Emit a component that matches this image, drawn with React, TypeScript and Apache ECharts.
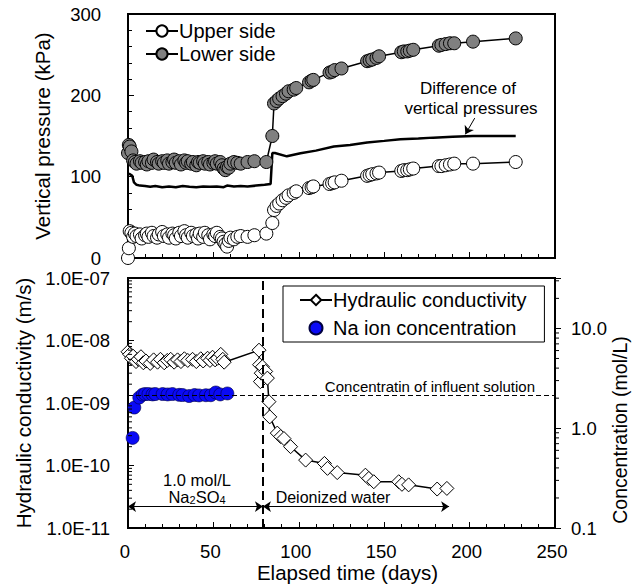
import React, { useEffect, useRef } from 'react';
import * as echarts from 'echarts';

// ---------- data ----------
const pressureDays = [0, 0.5, 1, 2, 3, 4, 5, 7, 8, 10, 11, 12, 14, 15, 17, 18, 20, 21, 23, 24, 26, 27, 28, 30, 31, 33, 34, 35, 37, 38, 40, 41, 42, 44, 45, 47, 48, 50, 51, 52, 54, 55, 56, 57, 58, 59, 60, 62, 64, 66, 70, 74, 81, 84.5, 85.5, 87, 88.5, 90.5, 92.5, 94, 97, 98.5, 106, 107.5, 108.5, 118, 119.5, 121, 125, 140, 141.5, 143, 145.5, 147, 160, 161.5, 163.5, 165, 167, 182, 183.5, 186, 188.5, 191, 202, 227];
const upperSide = [0, 12, 33, 31, 26, 30, 27, 29, 24, 28, 30, 26, 31, 27, 25, 29, 32, 27, 29, 25, 30, 28, 24, 31, 27, 33, 28, 25, 31, 27, 29, 24, 30, 26, 31, 28, 23, 29, 27, 31, 26, 24, 20, 17, 14, 21, 25, 23, 26, 27, 26, 28, 30, 43, 59, 64, 67, 71, 74, 77, 80, 82, 86, 87, 88, 91, 92, 93, 95, 101, 102, 103, 104, 105, 107, 108, 108, 109, 110, 113, 113, 114, 115, 116, 116, 118];
const lowerSide = [129, 139, 137, 131, 120, 118, 116, 119, 117, 118, 115, 119, 117, 121, 118, 116, 119, 117, 120, 116, 118, 121, 117, 119, 115, 120, 117, 119, 116, 118, 114, 118, 117, 119, 116, 118, 115, 117, 119, 116, 118, 114, 110, 108, 112, 111, 116, 118, 117, 116, 118, 119, 118, 150, 190, 193, 196, 199, 202, 205, 207, 209, 216, 218, 219, 228, 229, 231, 233, 242, 243, 244, 246, 248, 253, 254, 254, 255, 256, 261, 262, 263, 264, 264, 266, 270];

const diffDays = [0.5, 2.5, 3.5, 5, 7, 10, 13, 16, 20, 24, 28, 32, 36, 40, 44, 48, 52, 56, 58, 62, 66, 70, 75, 80, 83.5, 84.5, 86, 93, 101, 110, 120.5, 130, 140, 150, 159.5, 170, 178.7, 190, 202, 227];
const diffPressure = [104, 101, 93, 90, 89, 88.5, 87.5, 88.5, 87, 88, 87, 88.5, 87.5, 87, 88, 87.5, 88, 87, 89, 88, 88.5, 88, 89, 90, 91, 129, 129, 125, 128.7, 132, 137, 139, 142, 144, 146, 147, 148, 149, 150, 150];

const hcDays = [0, 1, 2, 3, 4.7, 6, 7.6, 9, 10.5, 13, 15, 17.3, 19, 21.2, 23, 25, 27, 29, 31, 33, 35, 37.8, 40, 42.6, 44, 46.6, 48, 49.5, 51, 52.4, 54.3, 55.5, 56.3, 76.7, 77, 77.5, 78, 78.7, 80.6, 81.6, 82.5, 83, 87.4, 89.4, 91.3, 95.2, 104, 115, 116.8, 122.5, 139, 141, 143.9, 158.5, 160.4, 164.3, 181, 186.7];
const hydraulicConductivity = [6.6e-9, 6.0e-9, 5.2e-9, 5.6e-9, 4.6e-9, 5.0e-9, 5.5e-9, 4.4e-9, 4.7e-9, 4.3e-9, 4.9e-9, 4.5e-9, 5.0e-9, 4.4e-9, 4.8e-9, 5.0e-9, 4.5e-9, 4.9e-9, 4.6e-9, 5.1e-9, 4.8e-9, 5.0e-9, 4.6e-9, 5.1e-9, 4.7e-9, 5.2e-9, 4.8e-9, 5.4e-9, 4.9e-9, 5.2e-9, 6.0e-9, 5.0e-9, 4.5e-9, 7.0e-9, 4.1e-9, 2.2e-9, 3.0e-9, 3.8e-9, 3.2e-9, 2.5e-9, 1.05e-9, 6.0e-10, 3.3e-10, 2.9e-10, 2.7e-10, 2.0e-10, 1.22e-10, 1.08e-10, 9.0e-11, 7.7e-11, 7.0e-11, 6.2e-11, 5.5e-11, 5.5e-11, 5.0e-11, 4.9e-11, 4.2e-11, 4.3e-11];

const naDays = [2.7, 3.7, 6.6, 8.6, 10, 12, 14.4, 16, 20.3, 23.2, 26, 30, 32, 35.8, 39, 41.6, 45.6, 48.5, 51.4, 54, 58.2];
const naConcentration = [0.8, 1.61, 2.03, 2.17, 2.2, 2.2, 2.18, 2.2, 2.2, 2.18, 2.2, 2.16, 2.15, 2.1, 2.15, 2.13, 2.14, 2.14, 2.28, 2.18, 2.23];

const influentConcentration = 2.15;
const solutionChangeDay = 79;
const deionizedEndDay = 188;
const arrowLevel = 2.2e-11;
const diffArrow = [[203, 172], [197.5, 152]];

const hcTickLabels = ['1.0E-11', '1.0E-10', '1.0E-09', '1.0E-08', '1.0E-07'];
const concTickLabels = ['0.1', '1.0', '10.0'];

const FONT = 'Liberation Sans, Arial, sans-serif';

const zip = (a: number[], b: number[]) => a.map((v, i) => [v, b[i]]);

const minorLog = (lo: number, hi: number, x: number) => {
  const out: number[][] = [];
  for (let e = lo; e < hi; e++) for (let m = 2; m <= 9; m++) out.push([x, m * Math.pow(10, e)]);
  return out;
};

const isDecade = (v: number) => Math.abs(Math.log10(v) - Math.round(Math.log10(v))) < 1e-6;

export default function App() {
  const ref = useRef<HTMLDivElement>(null);
  useEffect(() => {
    if (!ref.current) return;
    const chart = echarts.init(ref.current, null, { renderer: 'svg' });
    const axisLine = { show: true, lineStyle: { color: '#000', width: 2 } };
    const label = { color: '#000', fontSize: 18.5, fontFamily: FONT };
    const titleStyle = { fontSize: 20.5, color: '#000', fontFamily: FONT };
    const tickRender = (dir: number) => (params: any, api: any) => {
      const p = api.coord([api.value(0), api.value(1)]);
      return {
        type: 'line',
        shape: { x1: p[0], y1: p[1], x2: p[0] + dir * 4, y2: p[1] },
        style: { stroke: '#000', lineWidth: 1 },
      };
    };
    const option: any = {
      animation: false,
      backgroundColor: '#fff',
      textStyle: { fontFamily: FONT },
      grid: [
        { left: 128, top: 14, width: 427, height: 244, show: true, borderColor: '#000', borderWidth: 2, backgroundColor: 'transparent' },
        { left: 128, top: 278, width: 427, height: 250, show: true, borderColor: '#000', borderWidth: 2, backgroundColor: 'transparent' },
      ],
      legend: [
        {
          data: ['Upper side', 'Lower side'],
          orient: 'vertical', left: 140, top: 16, itemWidth: 32, itemHeight: 14, itemGap: 3,
          textStyle: { fontSize: 20, color: '#000', fontFamily: FONT, padding: [0, 0, 0, -4] },
        },
        {
          data: ['Hydraulic conductivity', 'Na ion concentration'],
          orient: 'vertical', left: 283, top: 286, itemWidth: 32, itemHeight: 13, itemGap: 8,
          padding: [4, 18, 4, 16], borderColor: '#000', borderWidth: 1, backgroundColor: '#fff',
          textStyle: { fontSize: 20, color: '#000', fontFamily: FONT, padding: [0, 0, 0, -4] },
        },
      ],
      xAxis: [
        {
          gridIndex: 0, type: 'value', min: 0, max: 250, interval: 50,
          axisLine, axisLabel: { show: false },
          axisTick: { show: true, inside: true, length: 6, lineStyle: { color: '#000', width: 1 } },
          minorTick: { show: true, splitNumber: 5, length: 4, lineStyle: { color: '#000', width: 1 } },
          splitLine: { show: false },
        },
        {
          gridIndex: 1, type: 'value', min: 0, max: 250, interval: 50,
          axisLine, axisLabel: { ...label, margin: 14, padding: [0, 6, 0, 0] },
          axisTick: { show: true, inside: true, length: 6, lineStyle: { color: '#000', width: 1 } },
          minorTick: { show: true, splitNumber: 5, length: 4, lineStyle: { color: '#000', width: 1 } },
          splitLine: { show: false },
          name: 'Elapsed time (days)', nameLocation: 'middle', nameGap: 33,
          nameTextStyle: { ...titleStyle, padding: [0, 0, 0, 12] },
        },
      ],
      yAxis: [
        {
          gridIndex: 0, type: 'value', min: 0, max: 300, interval: 100,
          axisLine, axisLabel: { ...label, margin: 27 },
          axisTick: { show: true, inside: true, length: 6, lineStyle: { color: '#000', width: 1 } },
          minorTick: { show: true, splitNumber: 5, length: 4, lineStyle: { color: '#000', width: 1 } },
          splitLine: { show: false },
          name: 'Vertical pressure (kPa)', nameLocation: 'middle', nameGap: 75, nameRotate: 90,
          nameTextStyle: titleStyle,
        },
        {
          gridIndex: 1, type: 'log', logBase: 10, min: 1e-11, max: 1e-7,
          axisLine,
          axisLabel: {
            ...label, margin: 18,
            formatter: (v: number) => (isDecade(v) ? hcTickLabels[Math.round(Math.log10(v)) + 11] ?? '' : ''),
          },
          axisTick: { show: true, inside: true, length: 6, lineStyle: { color: '#000', width: 1 } },
          splitLine: { show: false },
          name: 'Hydraulic conductivity (m/s)', nameLocation: 'middle', nameGap: 92, nameRotate: 90,
          nameTextStyle: titleStyle,
        },
        {
          gridIndex: 1, type: 'log', logBase: 10, min: 0.1, max: 32, position: 'right',
          axisLine,
          axisLabel: {
            ...label, margin: 16,
            formatter: (v: number) => (isDecade(v) ? concTickLabels[Math.round(Math.log10(v)) + 1] ?? '' : ''),
          },
          axisTick: { show: true, inside: false, length: 6, lineStyle: { color: '#000', width: 1 } },
          splitLine: { show: false },
        },
      ],
      graphic: [
        { type: 'text', x: 468, y: 88, style: { text: 'Difference of', font: `17px ${FONT}`, fill: '#000', textAlign: 'center', textVerticalAlign: 'middle' } },
        { type: 'text', x: 471, y: 108, style: { text: 'vertical pressures', font: `17px ${FONT}`, fill: '#000', textAlign: 'center', textVerticalAlign: 'middle' } },
        { type: 'text', x: 535, y: 386, style: { text: 'Concentratin of influent solution', font: `15px ${FONT}`, fill: '#000', textAlign: 'right', textVerticalAlign: 'middle' } },
        { type: 'text', x: 197, y: 480, style: { text: '1.0 mol/L', font: `16.5px ${FONT}`, fill: '#000', textAlign: 'center', textVerticalAlign: 'middle' } },
        {
          type: 'text', x: 197, y: 497,
          style: {
            text: 'Na{s|2}SO{s|4}', font: `16.5px ${FONT}`, fill: '#000', textAlign: 'center', textVerticalAlign: 'middle',
            rich: { s: { fontSize: 11, fontFamily: FONT, padding: [6, 0, 0, 0], fill: '#000' } },
          },
        },
        { type: 'text', x: 333, y: 497, style: { text: 'Deionized water', font: `16px ${FONT}`, fill: '#000', textAlign: 'center', textVerticalAlign: 'middle' } },
        { type: 'text', x: 620, y: 430, rotation: Math.PI / 2, style: { text: 'Concentration (mol/L)', font: `19.5px ${FONT}`, fill: '#000', textAlign: 'center', textVerticalAlign: 'middle' } },
      ],
      series: [
        {
          name: 'Difference of vertical pressures', type: 'line', xAxisIndex: 0, yAxisIndex: 0,
          data: zip(diffDays, diffPressure), showSymbol: false, symbol: 'none',
          lineStyle: { color: '#000', width: 2.5 }, z: 2,
          markLine: {
            silent: true, symbol: ['none', 'arrow'], symbolSize: 8, label: { show: false },
            lineStyle: { color: '#000', width: 1, type: 'solid' },
            data: [[{ coord: diffArrow[0] }, { coord: diffArrow[1] }]],
          },
        },
        {
          name: 'Upper side', type: 'line', xAxisIndex: 0, yAxisIndex: 0,
          data: zip(pressureDays, upperSide), symbol: 'circle', symbolSize: 13,
          itemStyle: { color: '#fff', borderColor: '#000', borderWidth: 1 },
          lineStyle: { color: '#000', width: 1.5 }, z: 3,
        },
        {
          name: 'Lower side', type: 'line', xAxisIndex: 0, yAxisIndex: 0,
          data: zip(pressureDays, lowerSide), symbol: 'circle', symbolSize: 13,
          itemStyle: { color: '#808080', borderColor: '#000', borderWidth: 1 },
          lineStyle: { color: '#000', width: 1.5 }, z: 3,
        },
        {
          name: 'annotations-left', type: 'line', xAxisIndex: 1, yAxisIndex: 1, data: [], z: 1,
          markLine: {
            silent: true, label: { show: false }, symbol: ['arrow', 'arrow'], symbolSize: 8,
            lineStyle: { color: '#000', width: 1, type: 'solid' },
            data: [
              [{ coord: [0, arrowLevel] }, { coord: [solutionChangeDay, arrowLevel] }],
              [{ coord: [solutionChangeDay, arrowLevel] }, { coord: [deionizedEndDay, arrowLevel] }],
            ],
          },
        },
        {
          name: 'annotations-right', type: 'line', xAxisIndex: 1, yAxisIndex: 2, data: [], z: 1,
          markLine: {
            silent: true, label: { show: false }, symbol: ['none', 'none'],
            data: [
              { yAxis: influentConcentration, lineStyle: { color: '#000', width: 1, type: [5, 3] } },
              { xAxis: solutionChangeDay, lineStyle: { color: '#000', width: 2, type: [9, 5] } },
            ],
          },
        },
        {
          name: 'Hydraulic conductivity', type: 'line', xAxisIndex: 1, yAxisIndex: 1,
          data: zip(hcDays, hydraulicConductivity), symbol: 'diamond', symbolSize: 14,
          itemStyle: { color: '#fff', borderColor: '#000', borderWidth: 1 },
          lineStyle: { color: '#000', width: 1.5 }, z: 3,
        },
        {
          name: 'Na ion concentration', type: 'scatter', xAxisIndex: 1, yAxisIndex: 2,
          data: zip(naDays, naConcentration), symbol: 'circle', symbolSize: 13,
          itemStyle: { color: '#0a0af5', borderColor: '#000040', borderWidth: 0.6, opacity: 1 }, z: 3,
        },
        {
          name: 'minor-left', type: 'custom', xAxisIndex: 1, yAxisIndex: 1, silent: true,
          data: minorLog(-11, -7, 0), renderItem: tickRender(1), z: 4,
        },
        {
          name: 'minor-right', type: 'custom', xAxisIndex: 1, yAxisIndex: 2, silent: true,
          data: minorLog(-1, 2, 250).filter((d) => d[1] < 32), renderItem: tickRender(1), z: 4,
        },
      ],
    };
    chart.setOption(option);
    return () => chart.dispose();
  }, []);
  return <div ref={ref} style={{ position: 'fixed', left: 0, top: 0, width: 633, height: 585, background: '#fff' }} />;
}
